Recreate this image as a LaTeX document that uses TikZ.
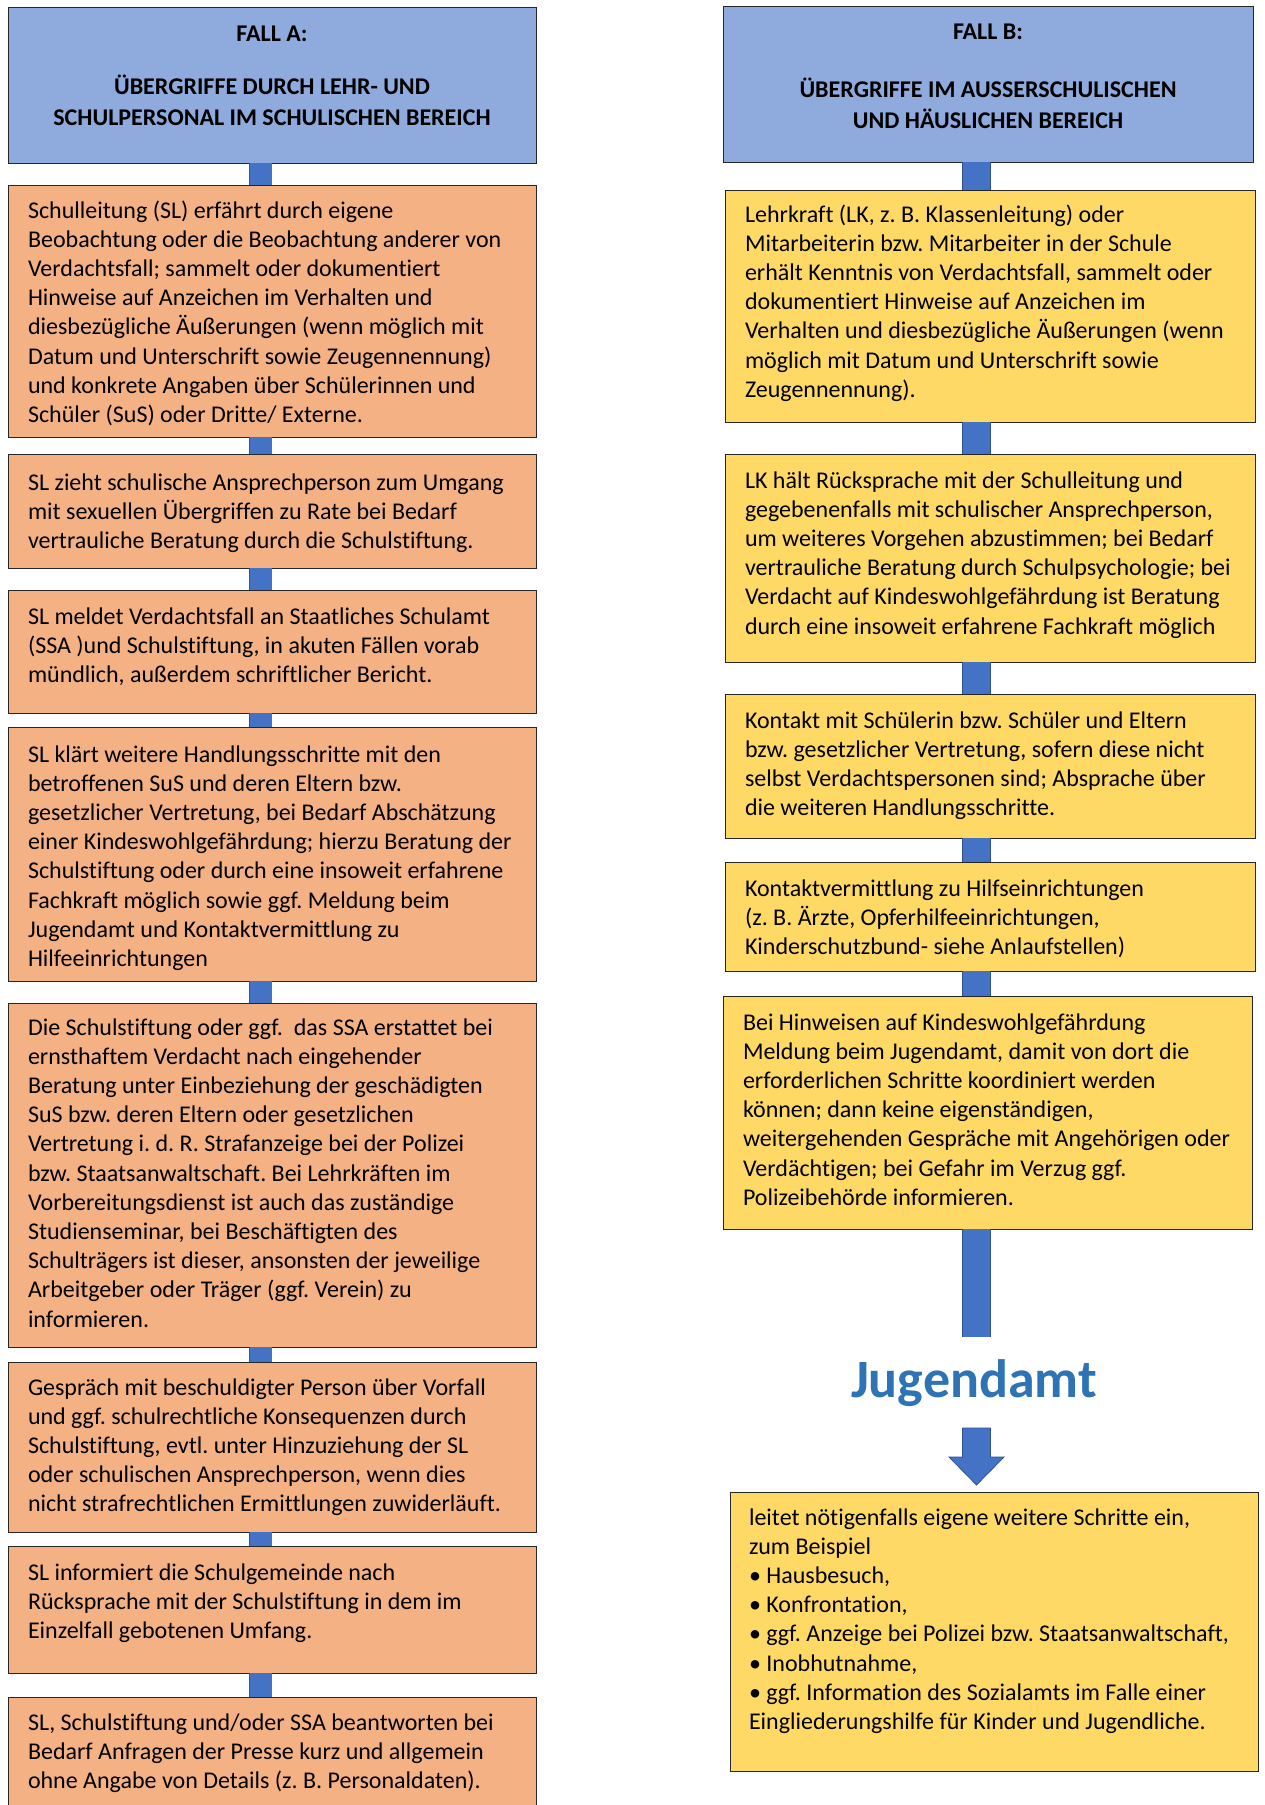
\documentclass[tikz,border=0pt]{standalone}
\usepackage{fontspec}
\setmainfont{Carlito}[Ligatures=NoCommon]
\frenchspacing
\usetikzlibrary{calc}
\definecolor{hdr}{HTML}{8FAADC}
\definecolor{orng}{HTML}{F4B183}
\definecolor{yell}{HTML}{FFD966}
\definecolor{connfill}{HTML}{4472C4}
\definecolor{connedge}{HTML}{2F528F}
\definecolor{jblue}{HTML}{2E74B5}
\newcommand{\mkbox}[6]{\node[#6, anchor=north west, minimum width={#4pt-#2pt}, minimum height={#5pt-#3pt}] (#1) at (#2,#3) {};}
\newcommand{\mktext}[4]{\node[txt, anchor=base west] (#1) at (#2,#3) {\begin{minipage}[t]{490pt}\raggedright\frenchspacing #4\end{minipage}};}
\tikzset{
  boxbase/.style={draw=black!85, line width=0.9pt, inner sep=0pt, outer sep=0pt},
  hdrbox/.style={boxbase, fill=hdr},
  obox/.style={boxbase, fill=orng},
  ybox/.style={boxbase, fill=yell},
  txt/.style={inner sep=0pt, outer sep=0pt, font=\fontsize{24}{29.2}\selectfont},
  hdrtxt/.style={inner sep=0pt, outer sep=0pt, font=\fontsize{24}{31}\selectfont\bfseries, anchor=base},
  connA/.style={draw=connedge, line width=0.8pt, double=connfill, double distance=22pt},
  connB/.style={draw=connedge, line width=0.8pt, double=connfill, double distance=26.5pt},
}
\begin{document}
\begin{tikzpicture}[x=1pt, y=-1pt]
\useasboundingbox (0,0) rectangle (1265,1805);
\fill[white] (0,0) rectangle (1265,1805);
\clip (0,0) rectangle (1265,1805);
\coordinate (barA) at (260.5,0);
\coordinate (barB) at (976.5,0);
% ---------- column A ----------
\mkbox{hA}{8}{7}{536}{163}{hdrbox}
\node[hdrtxt] (hAt) at (272,41) {\begin{minipage}[t]{500pt}\centering FALL A:\\[22pt] ÜBERGRIFFE DURCH LEHR- UND\\ SCHULPERSONAL IM SCHULISCHEN BEREICH\end{minipage}};
\mkbox{a1}{8}{185}{536}{437}{obox}
\mkbox{a2}{8}{454}{536}{568}{obox}
\mkbox{a3}{8}{590}{536}{713}{obox}
\mkbox{a4}{8}{727}{536}{981}{obox}
\mkbox{a5}{8}{1003}{536}{1347}{obox}
\mkbox{a6}{8}{1362}{536}{1532}{obox}
\mkbox{a7}{8}{1546}{536}{1673}{obox}
\mkbox{a8}{8}{1697}{536}{1815}{obox}
\mktext{ta1}{28}{218}{Schulleitung (SL) erfährt durch eigene\\
Beobachtung oder die Beobachtung anderer von\\
Verdachtsfall; sammelt oder dokumentiert\\
Hinweise auf Anzeichen im Verhalten und\\
diesbezügliche Äußerungen (wenn möglich mit\\
Datum und Unterschrift sowie Zeugennennung)\\
und konkrete Angaben über Schülerinnen und\\
Schüler (SuS) oder Dritte/ Externe.}
\mktext{ta2}{28}{490}{SL zieht schulische Ansprechperson zum Umgang\\
mit sexuellen Übergriffen zu Rate bei Bedarf\\
vertrauliche Beratung durch die Schulstiftung.}
\mktext{ta3}{28}{624}{SL meldet Verdachtsfall an Staatliches Schulamt\\
(SSA )und Schulstiftung, in akuten Fällen vorab\\
mündlich, außerdem schriftlicher Bericht.}
\mktext{ta4}{28}{762}{SL klärt weitere Handlungsschritte mit den\\
betroffenen SuS und deren Eltern bzw.\\
gesetzlicher Vertretung, bei Bedarf Abschätzung\\
einer Kindeswohlgefährdung; hierzu Beratung der\\
Schulstiftung oder durch eine insoweit erfahrene\\
Fachkraft möglich sowie ggf. Meldung beim\\
Jugendamt und Kontaktvermittlung zu\\
Hilfeeinrichtungen}
\mktext{ta5}{28}{1035}{Die Schulstiftung oder ggf.\ \ das SSA erstattet bei\\
ernsthaftem Verdacht nach eingehender\\
Beratung unter Einbeziehung der geschädigten\\
SuS bzw. deren Eltern oder gesetzlichen\\
Vertretung i. d. R. Strafanzeige bei der Polizei\\
bzw. Staatsanwaltschaft. Bei Lehrkräften im\\
Vorbereitungsdienst ist auch das zuständige\\
Studienseminar, bei Beschäftigten des\\
Schulträgers ist dieser, ansonsten der jeweilige\\
Arbeitgeber oder Träger (ggf. Verein) zu\\
informieren.}
\mktext{ta6}{28}{1395}{Gespräch mit beschuldigter Person über Vorfall\\
und ggf. schulrechtliche Konsequenzen durch\\
Schulstiftung, evtl. unter Hinzuziehung der SL\\
oder schulischen Ansprechperson, wenn dies\\
nicht strafrechtlichen Ermittlungen zuwiderläuft.}
\mktext{ta7}{28}{1580}{SL informiert die Schulgemeinde nach\\
Rücksprache mit der Schulstiftung in dem im\\
Einzelfall gebotenen Umfang.}
\mktext{ta8}{28}{1730}{SL, Schulstiftung und/oder SSA beantworten bei\\
Bedarf Anfragen der Presse kurz und allgemein\\
ohne Angabe von Details (z. B. Personaldaten).}
\foreach \u/\v in {hA/a1,a1/a2,a2/a3,a3/a4,a4/a5,a5/a6,a6/a7,a7/a8}
  \draw[connA] (\u.south -| barA) -- (\v.north -| barA);
% ---------- column B ----------
\mkbox{hB}{723}{6}{1253}{162}{hdrbox}
\node[hdrtxt] (hBt) at (988,39) {\begin{minipage}[t]{500pt}\centering FALL B:\\[27pt] ÜBERGRIFFE IM AUSSERSCHULISCHEN\\ UND HÄUSLICHEN BEREICH\end{minipage}};
\mkbox{b1}{725}{190}{1255}{422}{ybox}
\mkbox{b2}{725}{454}{1255}{662}{ybox}
\mkbox{b3}{725}{694}{1255}{838}{ybox}
\mkbox{b4}{725}{862}{1255}{971}{ybox}
\mkbox{b5}{723}{996}{1252}{1229}{ybox}
\mktext{tb1}{745}{222}{Lehrkraft (LK, z. B. Klassenleitung) oder\\
Mitarbeiterin bzw. Mitarbeiter in der Schule\\
erhält Kenntnis von Verdachtsfall, sammelt oder\\
dokumentiert Hinweise auf Anzeichen im\\
Verhalten und diesbezügliche Äußerungen (wenn\\
möglich mit Datum und Unterschrift sowie\\
Zeugennennung).}
\mktext{tb2}{745}{488}{LK hält Rücksprache mit der Schulleitung und\\
gegebenenfalls mit schulischer Ansprechperson,\\
um weiteres Vorgehen abzustimmen; bei Bedarf\\
vertrauliche Beratung durch Schulpsychologie; bei\\
Verdacht auf Kindeswohlgefährdung ist Beratung\\
durch eine insoweit erfahrene Fachkraft möglich}
\mktext{tb3}{745}{728}{Kontakt mit Schülerin bzw. Schüler und Eltern\\
bzw. gesetzlicher Vertretung, sofern diese nicht\\
selbst Verdachtspersonen sind; Absprache über\\
die weiteren Handlungsschritte.}
\mktext{tb4}{745}{896}{Kontaktvermittlung zu Hilfseinrichtungen\\
(z. B. Ärzte, Opferhilfeeinrichtungen,\\
Kinderschutzbund- siehe Anlaufstellen)}
\mktext{tb5}{743}{1030}{Bei Hinweisen auf Kindeswohlgefährdung\\
Meldung beim Jugendamt, damit von dort die\\
erforderlichen Schritte koordiniert werden\\
können; dann keine eigenständigen,\\
weitergehenden Gespräche mit Angehörigen oder\\
Verdächtigen; bei Gefahr im Verzug ggf.\\
Polizeibehörde informieren.}
\coordinate (jtop) at (976.5,1337);
\foreach \u/\v in {hB/b1,b1/b2,b2/b3,b3/b4,b4/b5}
  \draw[connB] (\u.south -| barB) -- (\v.north -| barB);
\draw[connB] (b5.south -| barB) -- (jtop);
\node[inner sep=0pt, anchor=base, text=jblue, font=\fontsize{54}{64}\selectfont\bfseries] (jamt) at (974,1397) {Jugendamt};
\mkbox{fin}{730}{1492}{1258}{1771}{ybox}
\filldraw[draw=connedge, fill=connfill, line width=0.8pt, line join=miter]
  (962.5,1428) -- (990.5,1428) -- (990.5,1457) -- (1004,1457) -- (976.5,1485) -- (949,1457) -- (962.5,1457) -- cycle;
\mktext{tfin}{749}{1525}{leitet nötigenfalls eigene weitere Schritte ein,\\
zum Beispiel\\
• Hausbesuch,\\
• Konfrontation,\\
• ggf. Anzeige bei Polizei bzw. Staatsanwaltschaft,\\
• Inobhutnahme,\\
• ggf. Information des Sozialamts im Falle einer\\
Eingliederungshilfe für Kinder und Jugendliche.}
\end{tikzpicture}
\end{document}
